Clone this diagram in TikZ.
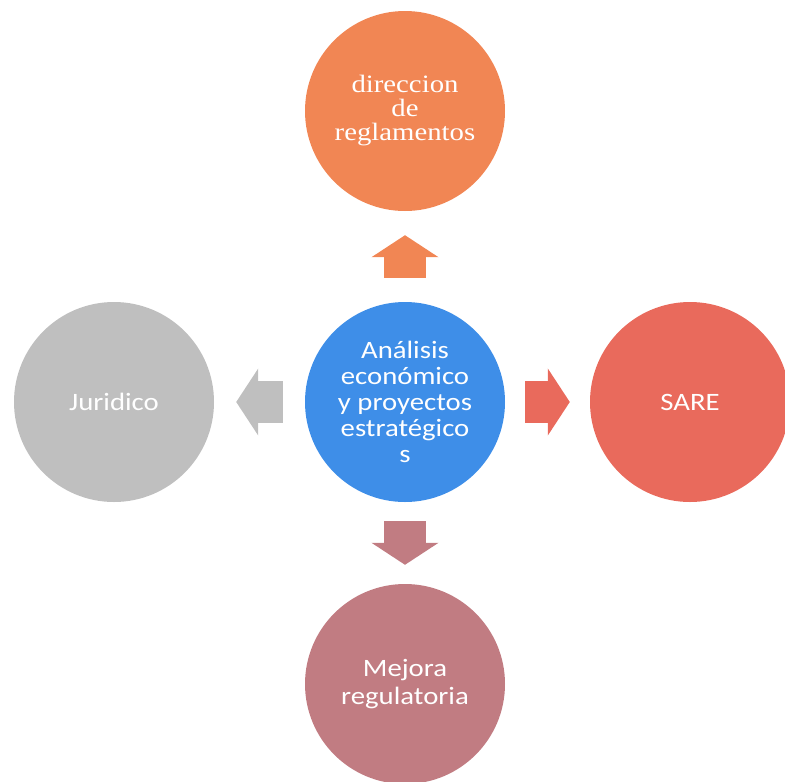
\documentclass[tikz,border=0pt]{standalone}
\usepackage{fontspec}
\setmainfont{Carlito}[FakeStretch=1.15]
\newfontfamily\serifface{Liberation Serif}[FakeStretch=1.15]
\usepackage{tikz}
\usetikzlibrary{arrows.meta,positioning,calc}

\definecolor{orangeC}{RGB}{241,134,84}
\definecolor{greyC}{RGB}{191,191,191}
\definecolor{blueC}{RGB}{62,142,232}
\definecolor{salmonC}{RGB}{233,106,92}
\definecolor{mauveC}{RGB}{193,124,130}

\begin{document}
\begin{tikzpicture}[x=1pt,y=-1pt,
  bubble/.style={circle, minimum size=200pt, inner sep=0pt, text=white, align=center,
    font=\fontsize{25}{26}\selectfont},
  flow/.style={line width=42pt, shorten <=#1, shorten >=#1,
    -{Triangle[length=22pt,width=66pt]}},
  flow/.default=22pt]
\useasboundingbox (0,0) rectangle (785,782);

% Circles
\node[bubble, fill=blueC] (cen) at (405,402) {Análisis\\económico\\y proyectos\\estratégico\\s};
\node[bubble, fill=orangeC, font=\serifface\fontsize{25}{24}\selectfont] (top) at (405,111) {direccion\\de\\reglamentos};
\node[bubble, fill=greyC] (left) at (114,402) {Juridico};
\node[bubble, fill=salmonC] (right) at (690,402) {SARE};
\node[bubble, fill=mauveC, font=\fontsize{25}{28}\selectfont] (bottom) at (405,684) {Mejora\\regulatoria};

% Block arrows
\draw[flow=24pt, orangeC] (cen) -- (top);
\draw[flow, greyC] (cen) -- (left);
\draw[flow=20pt, salmonC] (cen) -- (right);
\draw[flow=19pt, mauveC] (cen) -- (bottom);

\end{tikzpicture}
\end{document}
